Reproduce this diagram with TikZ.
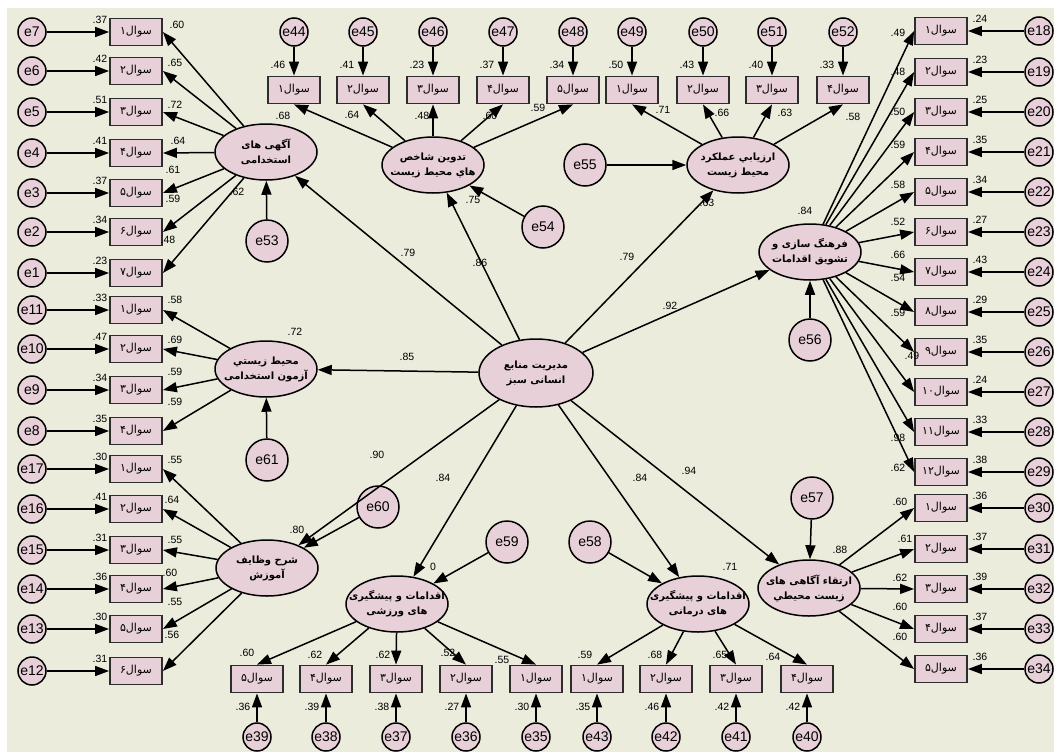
\documentclass[tikz,border=0pt]{standalone}
\usepackage{fontspec}
\setmainfont{Liberation Sans}
\newfontfamily\arabicfont[Script=Arabic]{DejaVu Sans}
\TeXXeTstate=1
\usetikzlibrary{shapes.geometric,arrows.meta}
\definecolor{bgc}{RGB}{236,236,221}
\definecolor{pk}{RGB}{232,208,217}
\definecolor{bx}{RGB}{45,45,45}
\newcommand{\fa}[1]{{\arabicfont\beginR #1\endR}}
\newcommand{\qq}[1]{{\arabicfont\fontsize{11}{12}\selectfont\beginR سوال\beginL #1\endL\endR}}
\tikzset{
 ec/.style={circle,draw,line width=1.5pt,fill=pk,minimum size=28pt,inner sep=0pt,font=\fontsize{14}{14}\selectfont},
 eb/.style={ec,minimum size=42pt},
 bxs/.style={rectangle,draw=bx,line width=1.8pt,fill=pk,minimum width=52pt,minimum height=27pt,inner sep=0pt},
 lat/.style={ellipse,draw,line width=1.5pt,fill=pk,minimum width=102pt,minimum height=56pt,inner sep=0pt},
 lt/.style={align=center,inner sep=0pt,font=\arabicfont\bfseries\fontsize{10}{15}\selectfont},
 ar/.style={line width=1.5pt,-{Triangle[length=14pt,width=10pt]}},
 lb/.style={font=\fontsize{10.5}{11}\selectfont,inner sep=0pt},
}
\begin{document}
\begin{tikzpicture}[x=1pt,y=-1pt]
\useasboundingbox (0,0) rectangle (1054,752);
\fill[white] (0,0) rectangle (1054,752);
\fill[bgc] (7,8) rectangle (1054,752);

% latent variables
\node[lat,minimum width=114pt,minimum height=68pt] (C) at (536,373) {};
\node[lt] at (C) {\fa{مدیریت منابع}\\\fa{انسانی سبز}};
\node[lat] (L1) at (266,152) {};
\node[lt] at (L1) {\fa{آگهی های}\\\fa{استخدامی}};
\node[lat] (L2) at (266,369) {};
\node[lt] at (L2) {\fa{محیط زیستي}\\\fa{آزمون استخدامی}};
\node[lat] (L3) at (267,568) {};
\node[lt] at (L3) {\fa{شرح وظایف}\\\fa{آموزش}};
\node[lat] (L4) at (433,165) {};
\node[lt] at (L4) {\fa{تدوین شاخص}\\\fa{هاي محیط زیست}};
\node[lat] (L5) at (738,165) {};
\node[lt] at (L5) {\fa{ارزیابي عملکرد}\\\fa{محیط زیست}};
\node[lat] (L6) at (810,252) {};
\node[lt] at (L6) {\fa{فرهنگ سازی و}\\\fa{تشویق اقدامات}};
\node[lat] (L7) at (809,588) {};
\node[lt] at (L7) {\fa{ارتقاء آگاهی های}\\\fa{زیست محیطي}};
\node[lat] (L8) at (698,604) {};
\node[lt] at (L8) {\fa{اقدامات و پیشگیری}\\\fa{های درمانی}};
\node[lat] (L9) at (397,604) {};
\node[lt] at (L9) {\fa{اقدامات و پیشگیری}\\\fa{های ورزشی}};

% structural disturbances
\node[eb] (e53) at (267,241) {e53};
\node[eb] (e61) at (267,460) {e61};
\node[eb] (e60) at (378,507) {e60};
\node[eb] (e54) at (543,227) {e54};
\node[eb] (e55) at (585,165) {e55};
\node[eb] (e56) at (810,340) {e56};
\node[eb] (e57) at (812,498) {e57};
\node[eb] (e58) at (590,542) {e58};
\node[eb] (e59) at (507,542) {e59};

\foreach \s/\t in {e53/L1,e61/L2,e60/L3,e54/L4,e55/L5,e56/L6,e57/L7,e58/L8,e59/L9}
  \draw[ar] (\s) -- (\t);
\foreach \t in {L1,L2,L3,L4,L5,L6,L7,L8,L9}
  \draw[ar] (C) -- (\t);

% left column
\foreach \i/\y/\e/\v/\p/\L in {1/32/7/.37/۱/L1,2/71/6/.42/۲/L1,3/112/5/.51/۳/L1,4/153/4/.41/۴/L1,5/193/3/.37/۵/L1,6/232/2/.34/۶/L1,7/273/1/.23/۷/L1,
  8/310/11/.33/۱/L2,9/349/10/.47/۲/L2,10/390/9/.34/۳/L2,11/431/8/.35/۴/L2,
  12/469/17/.30/۱/L3,13/509/16/.41/۲/L3,14/550/15/.31/۳/L3,15/589/14/.36/۴/L3,16/629/13/.30/۵/L3,17/671/12/.31/۶/L3}{
  \node[bxs] (W\i) at (136,\y) {\qq{\p}};
  \node[ec] (eW\i) at (32,\y) {e\e};
  \draw[ar] (eW\i) -- (W\i.west);
  \draw[ar] (\L) -- (W\i.east);
  \node[lb] at (100,\y-12) {\v};
}

% right column
\foreach \i/\y/\e/\v/\p/\L in {1/31/18/.24/۱/L6,2/72/19/.23/۲/L6,3/112/20/.25/۳/L6,4/152/21/.35/۴/L6,5/192/22/.34/۵/L6,6/232/23/.27/۶/L6,
  7/272/24/.43/۷/L6,8/312/25/.29/۸/L6,9/352/26/.35/۹/L6,10/392/27/.24/۱۰/L6,11/432/28/.33/۱۱/L6,12/472/29/.38/۱۲/L6,
  13/508/30/.36/۱/L7,14/549/31/.37/۲/L7,15/589/32/.39/۳/L7,16/629/33/.37/۴/L7,17/669/34/.36/۵/L7}{
  \node[bxs] (E\i) at (941,\y) {\qq{\p}};
  \node[ec] (eE\i) at (1039,\y) {e\e};
  \draw[ar] (eE\i) -- (E\i.east);
  \draw[ar] (\L) -- (E\i.west);
  \node[lb] at (980,\y-12) {\v};
}

% top row
\foreach \i/\x/\e/\v/\p/\L in {1/294/44/.46/۱/L4,2/363/45/.41/۲/L4,3/433/46/.23/۳/L4,4/503/47/.37/۴/L4,5/573/48/.34/۵/L4,
  6/632/49/.50/۱/L5,7/703/50/.43/۲/L5,8/772/51/.40/۳/L5,9/843/52/.33/۴/L5}{
  \node[bxs] (N\i) at (\x,90) {\qq{\p}};
  \node[ec] (eN\i) at (\x,32) {e\e};
  \draw[ar] (eN\i) -- (N\i.north);
  \draw[ar] (\L) -- (N\i.south);
  \node[lb] at (\x-16,65) {\v};
}

% bottom row
\foreach \i/\x/\e/\v/\p/\L in {1/257/39/.36/۵/L9,2/326/38/.39/۴/L9,3/396/37/.38/۳/L9,4/466/36/.27/۲/L9,5/536/35/.30/۱/L9,
  6/597/43/.35/۱/L8,7/666/42/.46/۲/L8,8/736/41/.42/۳/L8,9/807/40/.42/۴/L8}{
  \node[bxs] (S\i) at (\x,679) {\qq{\p}};
  \node[ec] (eS\i) at (\x,737) {e\e};
  \draw[ar] (eS\i) -- (S\i.south);
  \draw[ar] (\L) -- (S\i.north);
  \node[lb] at (\x-14,707) {\v};
}

% loadings and squared multiple correlations
\foreach \x/\y/\v in {177/25/.60,175/63/.65,175/105/.72,178/141/.64,173/170/.61,173/199/.59,168/240/.48,
  175/300/.58,175/340/.69,175/372/.59,175/402/.59,
  175/460/.55,172/500/.64,175/540/.55,170/573/.60,175/602/.55,172/635/.56,
  283/116/.68,352/115/.64,422/116/.48,490/116/.60,538/108/.59,663/110/.71,722/113/.66,785/113/.63,853/117/.58,
  898/33/.49,898/72/.48,898/112/.50,898/145/.59,898/185/.58,898/222/.52,898/255/.66,898/278/.54,898/313/.59,912/356/.49,898/438/.98,898/468/.62,
  900/502/.60,905/539/.61,900/578/.62,900/607/.60,900/637/.60,
  247/653/.60,315/655/.62,383/655/.62,448/653/.52,502/660/.55,585/655/.59,655/655/.68,720/655/.65,773/657/.64,
  237/192/.62,295/332/.72,297/530/.80,473/200/.75,707/203/.63,805/211/.84,840/550/.88,730/567/.71,433/567/0,
  408/253/.79,480/263/.86,627/257/.79,670/306/.92,407/357/.85,377/455/.90,443/478/.84,640/478/.84,689/471/.94}
  \node[lb] at (\x,\y) {\v};
\end{tikzpicture}
\end{document}
